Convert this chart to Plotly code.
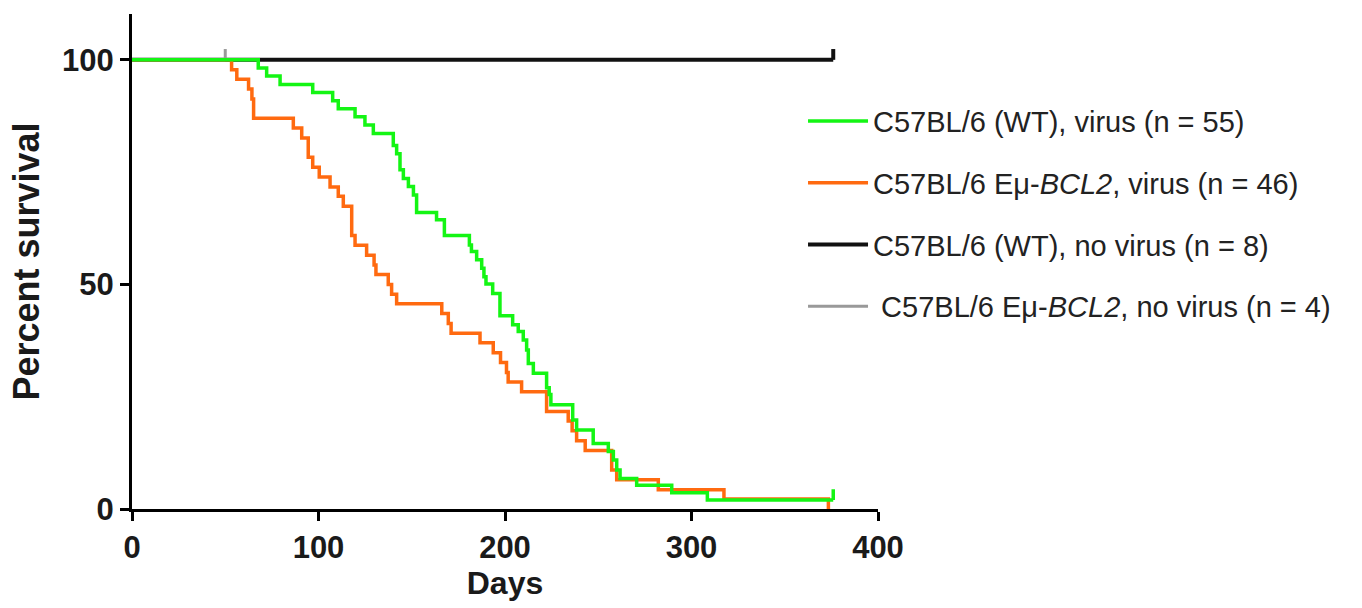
import plotly.graph_objects as go

# ---- data ----
wt_virus_t = [0, 67.7, 72.2, 79.4, 96.9, 107.6, 110.6, 119.6, 124.9, 129.4, 140.1, 141.9, 143.7,
              145.5, 148.2, 150.9, 152.6, 163.3, 167.5, 180.9, 182.0, 184.8, 187.5, 188.7, 189.8,
              193.4, 197.3, 204.1, 207.1, 209.8, 211.6, 212.5, 215.2, 222.3, 223.7, 224.6, 236.3,
              238.4, 247.3, 255.4, 258.1, 259.9, 261.7, 270.6, 289.4, 308.5]
wt_virus_s = [100, 98.2, 96.4, 94.5, 92.7, 90.9, 89.1, 87.3, 85.5, 83.6, 80.9, 79.1, 75.5,
              73.6, 71.8, 69.9, 66.0, 64.4, 60.9, 58.8, 57.3, 55.5, 53.6, 51.7, 50.1,
              48.0, 43.0, 41.0, 39.5, 37.6, 35.4, 32.4, 30.2, 27.0, 25.5, 23.2, 19.8,
              17.6, 14.6, 12.8, 10.9, 8.7, 6.8, 5.3, 3.6, 2.0]
wt_virus_end = 376

bcl2_virus_t = [0, 53.4, 56.2, 62.5, 64.3, 65.2, 86.5, 91.0, 94.5, 96.9, 100.4, 106.2, 110.6,
                113.3, 117.8, 119.6, 125.8, 129.8, 130.8, 137.4, 139.2, 141.9, 166.1, 169.6,
                171.1, 186.6, 193.7, 197.6, 200.8, 201.7, 208.9, 222.3, 233.9, 236.0, 238.4,
                243.0, 257.2, 259.9, 282.2, 317.4, 373.4]
bcl2_virus_s = [100, 97.8, 95.7, 93.5, 91.3, 87.0, 84.8, 82.6, 78.3, 76.1, 73.9, 71.7, 69.6,
                67.4, 60.9, 58.7, 56.5, 54.3, 52.2, 50.0, 47.8, 45.7, 43.5, 41.3,
                39.1, 37.0, 34.8, 32.6, 30.4, 28.3, 26.1, 21.7, 19.6, 17.4, 15.2,
                13.0, 8.7, 6.5, 4.3, 2.2, 0.0]
bcl2_virus_end = 373.4

wt_novirus_t = [0]
wt_novirus_s = [100]
wt_novirus_end = 376

bcl2_novirus_t = [0]
bcl2_novirus_s = [100]
bcl2_novirus_end = 50

names = ["C57BL/6 (WT), virus (n = 55)",
         "C57BL/6 Eμ-<i>BCL2</i>, virus (n = 46)",
         "C57BL/6 (WT), no virus (n = 8)",
         " C57BL/6 Eμ-<i>BCL2</i>, no virus (n = 4)"]
colors = ["#14F514", "#FF6A10", "#111111", "#999999"]

series = [
    (wt_virus_t, wt_virus_s, wt_virus_end, True),
    (bcl2_virus_t, bcl2_virus_s, bcl2_virus_end, False),
    (wt_novirus_t, wt_novirus_s, wt_novirus_end, True),
    (bcl2_novirus_t, bcl2_novirus_s, bcl2_novirus_end, True),
]
widths = [3.5, 3.5, 4, 3]
TICK = 2.4

fig = go.Figure()
draw_order = [2, 3, 1, 0]
for i in draw_order:
    t, s, end, censored = series[i]
    xs = list(t) + [end]
    ys = list(s) + [s[-1]]
    fig.add_trace(go.Scatter(
        x=xs, y=ys, mode="lines", line=dict(shape="hv", color=colors[i], width=widths[i]),
        name=names[i], legendgroup=f"g{i}", legendrank=i + 1, hoverinfo="skip"))
    if censored:
        fig.add_trace(go.Scatter(
            x=[end, end], y=[s[-1], s[-1] + TICK], mode="lines",
            line=dict(color=colors[i], width=widths[i]),
            legendgroup=f"g{i}", showlegend=False, hoverinfo="skip"))

axis_common = dict(showline=True, linecolor="black", linewidth=3, ticks="outside",
                   ticklen=9, tickwidth=3, tickcolor="black", showgrid=False, zeroline=False,
                   tickfont=dict(family="Liberation Sans", size=31, color="#1a1a1a", weight="bold"))

fig.update_layout(
    width=1362, height=608,
    margin=dict(l=132, r=484, t=14, b=99),
    paper_bgcolor="white", plot_bgcolor="white",
    xaxis=dict(range=[0, 400], tickvals=[0, 100, 200, 300, 400],
               title=dict(text="Days", standoff=6,
                          font=dict(family="Liberation Sans", size=32, color="#1a1a1a", weight="bold")),
               **axis_common),
    yaxis=dict(range=[0, 110.2], tickvals=[0, 50, 100],
               title=dict(text="Percent survival", standoff=12,
                          font=dict(family="Liberation Sans", size=36, color="#1a1a1a", weight="bold")),
               **axis_common),
    legend=dict(x=0.8995, y=0.835, xanchor="left", yanchor="top",
                font=dict(family="Liberation Sans", size=29, color="#222222"),
                tracegroupgap=21, traceorder="grouped", itemwidth=60,
                bgcolor="rgba(0,0,0,0)"),
    showlegend=True,
)

fig.write_html("out.html")
